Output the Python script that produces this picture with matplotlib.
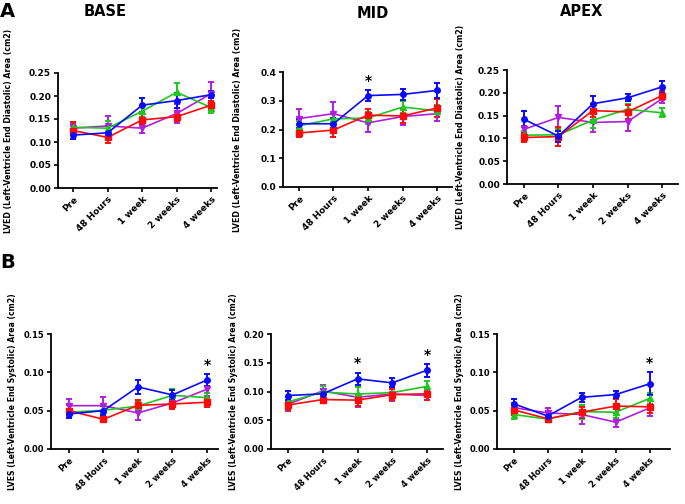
import numpy as np
import matplotlib.pyplot as plt

# 时间点
times = ['Pre', '48 Hours', '1 week', '2 weeks', '4 weeks']

# 颜色 (紫, 绿, 红, 蓝 的绘制顺序)
colors = {'purple': '#b01ee0', 'green': '#1ec81e', 'red': '#ff0a0a', 'blue': '#0a0aff'}
markers = {'purple': 'v', 'green': '^', 'red': 's', 'blue': 'o'}

# A: LVED 舒张末期面积
lved_base = {'purple': [0.130, 0.135, 0.130, 0.162, 0.205],
             'green':  [0.132, 0.130, 0.167, 0.208, 0.175],
             'red':    [0.125, 0.110, 0.148, 0.155, 0.180],
             'blue':   [0.115, 0.120, 0.180, 0.190, 0.203]}
lved_base_err = {'purple': [0.010, 0.022, 0.010, 0.020, 0.025],
                 'green':  [0.012, 0.016, 0.012, 0.020, 0.012],
                 'red':    [0.018, 0.012, 0.012, 0.010, 0.010],
                 'blue':   [0.008, 0.015, 0.015, 0.017, 0.008]}

lved_mid = {'purple': [0.238, 0.255, 0.223, 0.245, 0.255],
            'green':  [0.213, 0.237, 0.240, 0.278, 0.265],
            'red':    [0.188, 0.198, 0.250, 0.247, 0.275],
            'blue':   [0.220, 0.220, 0.318, 0.322, 0.336]}
lved_mid_err = {'purple': [0.033, 0.040, 0.030, 0.030, 0.025],
                'green':  [0.015, 0.020, 0.020, 0.020, 0.020],
                'red':    [0.013, 0.025, 0.022, 0.025, 0.030],
                'blue':   [0.015, 0.020, 0.018, 0.020, 0.025]}

lved_apex = {'purple': [0.120, 0.146, 0.135, 0.137, 0.187],
             'green':  [0.107, 0.108, 0.140, 0.164, 0.156],
             'red':    [0.102, 0.104, 0.161, 0.158, 0.194],
             'blue':   [0.142, 0.105, 0.176, 0.189, 0.213]}
lved_apex_err = {'purple': [0.008, 0.025, 0.022, 0.020, 0.010],
                 'green':  [0.010, 0.012, 0.018, 0.012, 0.010],
                 'red':    [0.010, 0.020, 0.015, 0.015, 0.010],
                 'blue':   [0.017, 0.012, 0.018, 0.008, 0.013]}

# B: LVES 收缩末期面积
lves_base = {'purple': [0.0565, 0.0565, 0.047, 0.060, 0.078],
             'green':  [0.048, 0.0505, 0.056, 0.070, 0.067],
             'red':    [0.050, 0.0387, 0.057, 0.0587, 0.061],
             'blue':   [0.0457, 0.050, 0.081, 0.0705, 0.090]}
lves_base_err = {'purple': [0.009, 0.011, 0.009, 0.007, 0.009],
                 'green':  [0.004, 0.007, 0.006, 0.008, 0.006],
                 'red':    [0.007, 0.004, 0.007, 0.007, 0.006],
                 'blue':   [0.005, 0.006, 0.009, 0.007, 0.008]}

lves_mid = {'purple': [0.078, 0.101, 0.090, 0.0957, 0.093],
            'green':  [0.082, 0.099, 0.0957, 0.098, 0.109],
            'red':    [0.0765, 0.086, 0.085, 0.0945, 0.096],
            'blue':   [0.093, 0.096, 0.122, 0.115, 0.137]}
lves_mid_err = {'purple': [0.012, 0.010, 0.017, 0.012, 0.008],
                'green':  [0.008, 0.010, 0.012, 0.010, 0.010],
                'red':    [0.008, 0.005, 0.010, 0.010, 0.010],
                'blue':   [0.008, 0.008, 0.011, 0.008, 0.011]}

lves_apex = {'purple': [0.054, 0.047, 0.045, 0.035, 0.0535],
             'green':  [0.045, 0.039, 0.0487, 0.048, 0.066],
             'red':    [0.051, 0.0395, 0.048, 0.056, 0.055],
             'blue':   [0.059, 0.043, 0.0674, 0.071, 0.085]}
lves_apex_err = {'purple': [0.006, 0.007, 0.012, 0.006, 0.010],
                 'green':  [0.006, 0.004, 0.009, 0.008, 0.007],
                 'red':    [0.006, 0.004, 0.007, 0.009, 0.008],
                 'blue':   [0.006, 0.006, 0.006, 0.005, 0.015]}

# 显著性标记 (蓝色组)
stars = [[], [2], [], [4], [2, 4], [4]]

lved_label = 'LVED (Left-Ventricle End Diastolic) Area (cm2)'
lves_label = 'LVES (Left-Ventricle End Systolic) Area (cm2)'
titles = ['BASE', 'MID', 'APEX']

W, H = 685, 504
fig = plt.figure(figsize=(W / 100, H / 100), dpi=100)

# (left, right, top, bottom) 像素
boxes = [(58, 217, 73, 188), (283, 452, 72, 187), (507, 678, 70, 184),
         (51, 218, 334, 449), (271, 443, 334, 449), (497, 670, 334, 449)]
label_x = [13, 242, 465, 17, 238, 464]
title_pos = [(105, 11), (373, 13), (582, 11)]
xlims = [(-0.44, 4.17), (-0.46, 4.43), (-0.49, 4.46),
         (-0.52, 4.32), (-0.49, 4.46), (-0.49, 4.6)]
ymax = [0.25, 0.4, 0.25, 0.15, 0.20, 0.15]
ystep = [0.05, 0.1, 0.05, 0.05, 0.05, 0.05]
yfmt = ['%.2f', '%.1f', '%.2f', '%.2f', '%.2f', '%.2f']
data = [(lved_base, lved_base_err), (lved_mid, lved_mid_err), (lved_apex, lved_apex_err),
        (lves_base, lves_base_err), (lves_mid, lves_mid_err), (lves_apex, lves_apex_err)]

x = np.arange(len(times))
for i in range(6):
    l, r, t, b = boxes[i]
    ax = fig.add_axes([l / W, 1 - b / H, (r - l) / W, (b - t) / H])
    means, errs = data[i]
    for k in ['purple', 'green', 'red', 'blue']:
        ax.errorbar(x, means[k], yerr=errs[k], color=colors[k], marker=markers[k],
                    ms=4, lw=1.2, elinewidth=1.4, capsize=2.2, capthick=1.4)
    for j in stars[i]:
        yy = means['blue'][j] + errs['blue'][j] + ymax[i] * 0.02
        ax.text(j, yy, '*', ha='center', va='bottom', fontsize=10, fontweight='bold')
    ax.set_xlim(*xlims[i])
    ax.set_ylim(0, ymax[i])
    fs = 6.5 if i < 3 else 6
    ticks = np.arange(0, ymax[i] + 1e-9, ystep[i])
    ax.set_yticks(ticks)
    ax.set_yticklabels([yfmt[i] % v for v in ticks], fontsize=fs, fontweight='bold')
    ax.set_xticks(x)
    ax.set_xticklabels(times, rotation=45, ha='right', rotation_mode='anchor',
                       fontsize=fs, fontweight='bold')
    ax.spines['top'].set_visible(False)
    ax.spines['right'].set_visible(False)
    ax.spines['left'].set_linewidth(1.3)
    ax.spines['bottom'].set_linewidth(1.3)
    ax.tick_params(width=1.2, length=3, pad=2)
    if i < 3:
        ax.set_ylabel(lved_label, fontsize=5.7, fontweight='bold')
        fig.text(title_pos[i][0] / W, 1 - title_pos[i][1] / H, titles[i],
                 fontsize=10.5, fontweight='bold', ha='center', va='center')
    else:
        ax.set_ylabel(lves_label, fontsize=5.6, fontweight='bold')
    ax.yaxis.set_label_coords((label_x[i] - l) / (r - l), 0.5)

fig.text(0.0, 1 - 2 / H, 'A', fontsize=14, fontweight='bold', va='top', ha='left')
fig.text(0.0, 1 - 253 / H, 'B', fontsize=14, fontweight='bold', va='top', ha='left')

plt.savefig('out.png', dpi=100)
